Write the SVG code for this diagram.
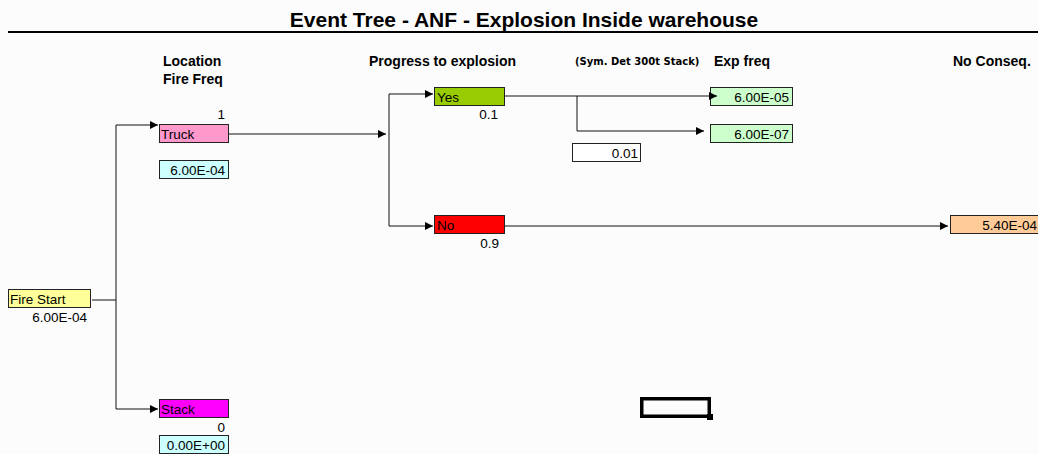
<svg xmlns="http://www.w3.org/2000/svg" width="1038" height="454" viewBox="0 0 1038 454">
<defs>
<marker id="ah" viewBox="0 0 8 8" refX="8" refY="4" markerWidth="8" markerHeight="8" markerUnits="userSpaceOnUse" orient="auto">
<path d="M0,0 L8,4 L0,8 z" fill="#000"/>
</marker>
<style>
.t{font-family:"Liberation Sans",Arial,sans-serif;font-size:13.5px;fill:#000}
.h{font-family:"Liberation Sans",Arial,sans-serif;font-size:14px;font-weight:bold;fill:#000}
.hs{font-family:"DejaVu Sans",Verdana,sans-serif;font-size:10px;font-weight:bold;fill:#000}
.box{stroke:#222;stroke-width:1}
.ln{stroke:#111;stroke-width:1;fill:none}
.r{text-anchor:end}
</style>
</defs>
<rect width="1038" height="454" fill="#FCFCFC"/>
<text x="524" y="27" text-anchor="middle" font-family="Liberation Sans, Arial, sans-serif" font-size="21" font-weight="bold">Event Tree - ANF - Explosion Inside warehouse</text>
<line x1="8" y1="32" x2="1038" y2="32" stroke="#000" stroke-width="2"/>
<g id="headers">
<text class="h" x="163" y="66">Location</text>
<text class="h" x="163" y="84">Fire Freq</text>
<text class="h" x="369" y="66">Progress to explosion</text>
<text class="hs" x="575" y="65">(Sym. Det 300t Stack)</text>
<text class="h" x="714" y="66">Exp freq</text>
<text class="h" x="953" y="66">No Conseq.</text>
</g>
<g id="fire-start">
<rect class="box" x="8.5" y="289.5" width="82" height="18" fill="#FFFF99"/>
<text class="t" x="10" y="304">Fire Start</text>
<text class="t r" x="87" y="322">6.00E-04</text>
</g>
<g id="truck">
<text class="t r" x="225" y="119">1</text>
<rect class="box" x="159.5" y="124.5" width="69" height="18" fill="#FF99CC"/>
<text class="t" x="161" y="139">Truck</text>
</g>
<g id="truck-freq">
<rect class="box" x="159.5" y="160.5" width="69" height="18" fill="#CCFFFF"/>
<text class="t r" x="225" y="175">6.00E-04</text>
</g>
<g id="stack">
<rect class="box" x="159.5" y="399.5" width="69" height="18" fill="#FF00FF"/>
<text class="t" x="161" y="414">Stack</text>
<text class="t r" x="225" y="432">0</text>
</g>
<g id="stack-freq">
<rect class="box" x="159.5" y="435.5" width="69" height="18" fill="#CCFFFF"/>
<text class="t r" x="225" y="450">0.00E+00</text>
</g>
<g id="yes">
<rect class="box" x="434.5" y="87.5" width="70" height="18" fill="#99CC00"/>
<text class="t" x="437" y="102">Yes</text>
<text class="t r" x="498" y="119">0.1</text>
</g>
<g id="no">
<rect class="box" x="434.5" y="215.5" width="70" height="18" fill="#FF0000"/>
<text class="t" x="437" y="230">No</text>
<text class="t r" x="499" y="248">0.9</text>
</g>
<g id="det-prob">
<rect class="box" x="572.5" y="143.5" width="68" height="18" fill="#FFFFFF"/>
<text class="t r" x="638" y="158">0.01</text>
</g>
<g id="exp-freq-1">
<rect class="box" x="710.5" y="87.5" width="82" height="18" fill="#CCFFCC"/>
<text class="t r" x="789" y="102">6.00E-05</text>
</g>
<g id="exp-freq-2">
<rect class="box" x="710.5" y="124.5" width="82" height="18" fill="#CCFFCC"/>
<text class="t r" x="789" y="139">6.00E-07</text>
</g>
<g id="no-conseq">
<rect class="box" x="950.5" y="215.5" width="92" height="18" fill="#FFCC99"/>
<text class="t r" x="1037" y="230">5.40E-04</text>
</g>
<g id="connectors">
<polyline class="ln" points="92,300 116,300"/>
<polyline class="ln" points="116,409 116,125 158,125" marker-end="url(#ah)"/>
<polyline class="ln" points="116,409 158,409" marker-end="url(#ah)"/>
<polyline class="ln" points="229,134 386,134" marker-end="url(#ah)"/>
<polyline class="ln" points="389,226 389,94 433,94" marker-end="url(#ah)"/>
<polyline class="ln" points="389,226 433,226" marker-end="url(#ah)"/>
<polyline class="ln" points="505,96 717,96" marker-end="url(#ah)"/>
<polyline class="ln" points="577,96 577,131 704,131" marker-end="url(#ah)"/>
<polyline class="ln" points="505,226 948,226" marker-end="url(#ah)"/>
</g>
<g id="selection">
<rect x="641.75" y="398.75" width="67.5" height="17.5" fill="none" stroke="#000" stroke-width="3.5"/>
<rect x="707" y="414" width="6" height="6" fill="#000"/>
</g>
</svg>
